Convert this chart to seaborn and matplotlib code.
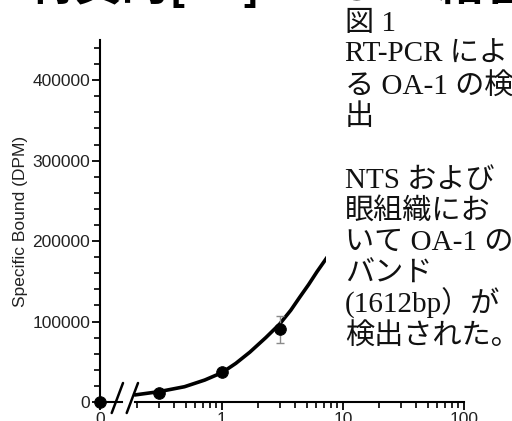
import numpy as np
import pandas as pd
import matplotlib
matplotlib.use("Agg")
import matplotlib.pyplot as plt
from matplotlib.lines import Line2D
from matplotlib.patches import Rectangle
from matplotlib.ticker import MultipleLocator, NullFormatter
import seaborn as sns

# データ
conc_points = [0.3, 1, 3]
bound_points = [11500, 37600, 90300]
bound_err = [0, 0, 16700]
zero_conc = [0]
zero_bound = [0]

curve_conc = [0.191, 0.3, 0.49, 0.72, 1.0, 1.3, 1.7, 2.3, 3.0, 3.7, 4.4, 5.2, 6.1, 7.4]
curve_bound = [8800, 12800, 19000, 27300, 36500, 48000, 62000, 80000, 97000, 114000, 130500, 146000, 162000, 180000]

y_major = [0, 100000, 200000, 300000, 400000]
x_major = [1, 10, 100]
x_labels = ["1", "10", "100"]

title_text = "特異的[³H]L-DOPA結合"
caption_lines = ["図 1", "RT-PCR によ", "る OA-1 の検", "出", "",
                 "NTS および", "眼組織にお", "いて OA-1 の", "バンド",
                 "(1612bp）が", "検出された。"]

sns.set_theme(style="ticks")
plt.rcParams['font.family'] = ['Liberation Sans', 'DejaVu Sans']

W, H = 512, 421
fig = plt.figure(figsize=(W / 100, H / 100), dpi=100)


def fx(px):
    return px / W


def fy(py):
    return 1 - py / H


ax0 = fig.add_axes([fx(100), 19 / H, 22 / W, 362 / H])
ax1 = fig.add_axes([fx(135), 19 / H, 329 / W, 362 / H])

tick_col = "#222222"
for ax in (ax0, ax1):
    ax.set_ylim(0, 450000)
    ax.set_facecolor("none")
    ax.spines['top'].set_visible(False)
    ax.spines['right'].set_visible(False)
    for s in ax.spines.values():
        s.set_linewidth(1.5)
        s.set_color("black")
    ax.tick_params(axis='both', which='major', length=6, width=1.3,
                   colors="black", labelcolor=tick_col, labelsize=12.5, pad=1)
    ax.tick_params(axis='both', which='minor', length=4, width=1.2, colors="black")

# 左側 (0 の区間)
ax0.set_xlim(0, 1)
ax0.set_xticks([0], ["0"])
ax0.set_yticks(y_major, [str(v) for v in y_major])
ax0.yaxis.set_minor_locator(MultipleLocator(20000))
ax0.set_ylabel("Specific Bound (DPM)", fontsize=12.5, color=tick_col, labelpad=3)
sns.scatterplot(x=zero_conc, y=zero_bound, ax=ax0, color="black", s=70,
                edgecolor="black", clip_on=False, zorder=5, legend=False)

# 右側 (対数軸)
ax1.set_xscale("log")
ax1.set_xlim(0.191, 100)
ax1.spines['left'].set_visible(False)
ax1.set_yticks([])
ax1.set_xticks(x_major, x_labels)
ax1.xaxis.set_minor_formatter(NullFormatter())

curve_df = pd.DataFrame({"conc": curve_conc, "bound": curve_bound})
sns.lineplot(data=curve_df, x="conc", y="bound", ax=ax1, color="black",
             linewidth=2.6, clip_on=False)
ax1.errorbar(conc_points, bound_points, yerr=bound_err, fmt="none",
             ecolor="#8a8a8a", elinewidth=1, capsize=3, capthick=1, zorder=3)
sns.scatterplot(x=conc_points, y=bound_points, ax=ax1, color="black", s=70,
                edgecolor="black", zorder=5, legend=False)
ax1.set_xlabel("")
ax1.set_ylabel("")

# 軸の切れ目
for x0 in (111.7, 126.7):
    fig.add_artist(Line2D([fx(x0), fx(x0 + 11.3)], [fy(413), fy(383)],
                          color="black", linewidth=1.8))

# 右側のテキストボックス
fig.add_artist(Rectangle((fx(326), fy(385)), (W - 326) / W, (385 - 12) / H,
                         transform=fig.transFigure, facecolor="white",
                         edgecolor="none", zorder=10))

for i, line in enumerate(caption_lines):
    if not line:
        continue
    fig.text(fx(345), fy(31 + i * 31.3), line, ha="left", va="baseline",
             fontsize=21, color="#111111", zorder=11,
             family=['Liberation Serif', 'Noto Sans CJK JP'])

# 上部の見出し (上が切れている)
fig.text(fx(27), fy(0), title_text, ha="left", va="baseline", fontsize=34,
         fontweight="bold", color="black", zorder=11,
         family=['Noto Sans CJK JP', 'DejaVu Sans'])

fig.savefig("out.png", dpi=100)
